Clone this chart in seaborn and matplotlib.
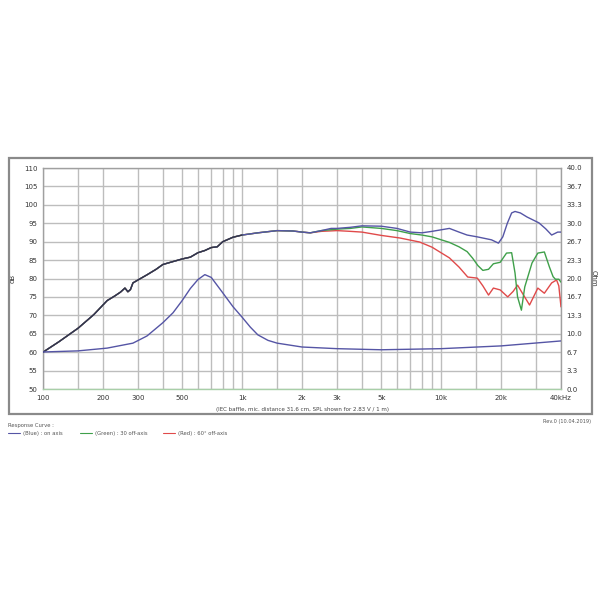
import numpy as np
import pandas as pd
import matplotlib
matplotlib.use("Agg")
import matplotlib.pyplot as plt
from matplotlib.patches import Rectangle
from matplotlib.lines import Line2D
import seaborn as sns

# ---- data ----
freq_low = [100, 120, 150, 180, 210, 230, 245, 258, 267, 275, 283, 300, 333, 370, 400,
            450, 500, 550, 600, 650, 700, 750, 800, 900, 1000, 1200, 1500, 1800, 2000, 2200]
spl_low = [60.0, 62.8, 66.5, 70.2, 74.0, 75.3, 76.3, 77.4, 76.4, 77.0, 78.8, 79.6, 81.0, 82.5, 83.8,
           84.6, 85.3, 85.8, 87.0, 87.6, 88.4, 88.6, 90.0, 91.2, 91.8, 92.4, 93.0, 92.9, 92.6, 92.4]

freq_on = [2500, 2800, 3000, 3500, 4000, 5000, 6000, 7000, 8000, 9000, 11000, 12300, 13500,
           15200, 17900, 19400, 20400, 21500, 22600, 23500, 25000, 27000, 31000, 33500, 35900,
           38500, 40000]
spl_on = [93.0, 93.6, 93.6, 93.9, 94.3, 94.2, 93.6, 92.6, 92.4, 92.8, 93.6, 92.6, 91.8,
          91.3, 90.5, 89.6, 91.3, 95.0, 97.8, 98.2, 97.8, 96.7, 95.1, 93.5, 91.8,
          92.6, 92.6]

freq_30 = [2500, 3000, 3500, 4000, 5000, 6000, 7000, 8000, 9000, 11000, 12300, 13500, 14400,
           15300, 16200, 17300, 18300, 19800, 21300, 22600, 23500, 24200, 25300, 26300, 28600,
           30600, 33000, 35000, 36500, 37500, 39000, 40000]
spl_30 = [93.0, 93.4, 93.6, 94.0, 93.6, 93.0, 92.2, 91.8, 91.3, 89.8, 88.6, 87.3, 85.5,
          83.5, 82.2, 82.5, 84.0, 84.4, 86.9, 87.0, 81.5, 75.0, 71.4, 77.7, 84.2,
          86.9, 87.2, 83.1, 80.5, 79.8, 79.8, 79.0]

freq_60 = [2500, 3000, 3500, 4000, 5000, 6200, 7800, 9000, 11000, 12300, 13600, 15200, 16200,
           17300, 18300, 19800, 21600, 23000, 24200, 25600, 27800, 30600, 33000, 35900, 38000,
           39000, 40000]
spl_60 = [92.8, 93.0, 92.8, 92.6, 91.7, 91.0, 89.9, 88.5, 85.6, 83.1, 80.4, 80.1, 78.0,
          75.5, 77.4, 76.9, 75.0, 76.5, 78.2, 76.0, 72.8, 77.4, 76.0, 78.8, 79.6,
          78.0, 72.3]

freq_imp = [100, 150, 210, 283, 333, 400, 450, 500, 550, 600, 650, 700, 800, 900, 1000,
            1100, 1200, 1350, 1500, 2000, 3000, 5000, 10000, 20000, 40000]
imp_ohm = [6.7, 6.9, 7.4, 8.3, 9.6, 12.0, 13.8, 16.0, 18.2, 19.8, 20.7, 20.2, 17.4, 14.9, 13.0,
           11.2, 9.8, 8.8, 8.3, 7.6, 7.3, 7.1, 7.3, 7.8, 8.7]

grid_freqs = [100, 150, 200, 300, 400, 500, 600, 700, 800, 900, 1000, 1500, 2000, 3000, 4000,
              5000, 6000, 7000, 8000, 9000, 10000, 15000, 20000, 30000, 40000]
x_labels = {100: "100", 200: "200", 300: "300", 500: "500", 1000: "1k", 2000: "2k",
            3000: "3k", 5000: "5k", 10000: "10k", 20000: "20k", 40000: "40kHz"}

blue = "#5555a5"
green = "#3fa04a"
red = "#e04a4a"

sns.set_style("white")
plt.rcParams['font.family'] = ['DejaVu Sans']

fig = plt.figure(figsize=(6, 6), dpi=100)
ax = fig.add_axes([43 / 600, 1 - 389 / 600, 518 / 600, 221 / 600])

df_on = pd.DataFrame({"f": freq_low + freq_on, "spl": spl_low + spl_on})
df_30 = pd.DataFrame({"f": freq_low + freq_30, "spl": spl_low + spl_30})
df_60 = pd.DataFrame({"f": freq_low + freq_60, "spl": spl_low + spl_60})

sns.lineplot(data=df_60, x="f", y="spl", ax=ax, color=red, lw=1.0, sort=False, zorder=3)
sns.lineplot(data=df_30, x="f", y="spl", ax=ax, color=green, lw=1.0, sort=False, zorder=4)
sns.lineplot(data=df_on, x="f", y="spl", ax=ax, color=blue, lw=1.0, sort=False, zorder=5)
# low end where all three overlap looks dark
sns.lineplot(x=freq_low[:-5], y=spl_low[:-5], ax=ax, color="#333344", lw=0.9, sort=False, zorder=6)

ax.set_xscale("log")
ax.set_xlim(100, 40000)
ax.set_ylim(50, 110)
ax.set_xticks(grid_freqs)
ax.set_xticklabels([x_labels.get(f, "") for f in grid_freqs])
ax.xaxis.set_minor_locator(matplotlib.ticker.NullLocator())
ax.set_yticks(np.arange(50, 111, 5))
ax.tick_params(axis="both", length=0, labelsize=5, colors="#333333", pad=4)
ax.grid(True, color="#bdbdbd", lw=1.0)
ax.set_xlabel("")
ax.set_ylabel("dB", fontsize=5, color="#333333", labelpad=6)
for s in ax.spines.values():
    s.set_color("#a0a0a0")
    s.set_linewidth(1.0)
ax.spines["bottom"].set_color("#a8cfa8")

ax2 = ax.twinx()
sns.lineplot(x=freq_imp, y=imp_ohm, ax=ax2, color=blue, lw=1.0, sort=False)
ax2.set_ylim(0, 40)
ax2.set_yticks(np.linspace(0, 40, 13))
ax2.set_yticklabels([f"{v:.1f}" for v in np.linspace(0, 40, 13)])
ax2.tick_params(axis="y", length=0, labelsize=5, colors="#333333", pad=4)
ax2.set_ylabel("Ohm", fontsize=5, color="#333333", rotation=270, labelpad=10)
ax2.grid(False)
for s in ax2.spines.values():
    s.set_visible(False)

fig.text(302 / 600, 1 - 409 / 600, "(IEC baffle, mic. distance 31.6 cm, SPL shown for 2.83 V / 1 m)",
         ha="center", va="center", fontsize=4, color="#444444")

# outer frame
fig.add_artist(Rectangle((9 / 600, 1 - 414 / 600), 583 / 600, 256 / 600, transform=fig.transFigure,
                         fill=False, edgecolor="#8a8a8a", lw=1.6))

# legend under the frame
fig.text(8 / 600, 1 - 425 / 600, "Response Curve :", fontsize=3.8, color="#555555", va="center")
entries = [(8, blue, "(Blue) : on axis"), (80, green, "(Green) : 30 off-axis"), (163, red, "(Red) : 60° off-axis")]
for x0, c, lab in entries:
    fig.add_artist(Line2D([x0 / 600, (x0 + 12) / 600], [1 - 433 / 600, 1 - 433 / 600],
                          transform=fig.transFigure, color=c, lw=0.8))
    fig.text((x0 + 15) / 600, 1 - 433 / 600, lab, fontsize=3.8, color="#555555", va="center")
fig.text(591 / 600, 1 - 421 / 600, "Rev.0 (10.04.2019)", fontsize=3.6, color="#555555",
         ha="right", va="center")

fig.savefig("out.png", dpi=100)
